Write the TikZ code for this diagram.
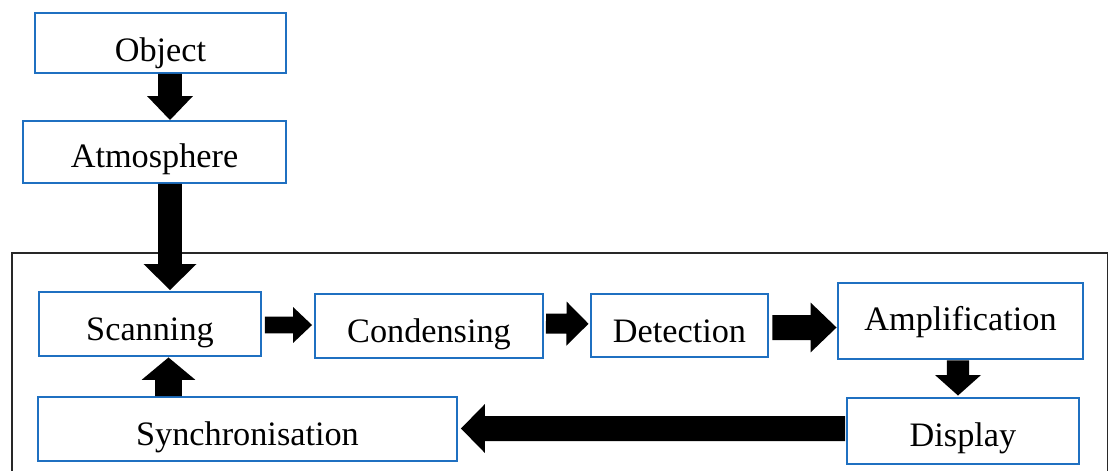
\documentclass[tikz,border=0pt]{standalone}
\usepackage{fontspec}
\setmainfont{Liberation Serif}
\usetikzlibrary{calc}
\definecolor{boxblue}{RGB}{31,112,193}
\definecolor{framegray}{RGB}{40,40,40}
\tikzset{
  box/.style={draw=boxblue, line width=0.04cm, fill=white, inner sep=0pt,
    text depth=0pt, font=\fontsize{19.5}{23}\selectfont},
  framel/.style={draw=framegray, line width=0.025cm},
  arrowfill/.style={fill=black}
}
% block arrow: #1 start, #2 tip, #3 shaft half-width, #4 head half-width, #5 head length (px)
\newcommand\blockarrow[5]{%
  \coordinate (baS) at (#1);
  \coordinate (baT) at (#2);
  \coordinate (baD) at ($(baT)!#5*0.569pt!(baS)$);
  \fill[arrowfill] ($(baS)!#3*0.569pt!90:(baT)$) -- ($(baD)!#3*0.569pt!90:(baT)$)
    -- ($(baD)!#4*0.569pt!90:(baT)$) -- (baT) -- ($(baD)!#4*0.569pt!-90:(baT)$)
    -- ($(baD)!#3*0.569pt!-90:(baT)$) -- ($(baS)!#3*0.569pt!-90:(baT)$) -- cycle;
}
\begin{document}
\begin{tikzpicture}[x=0.02cm,y=-0.02cm]
\useasboundingbox (0,0) rectangle (1109,470);
\fill[white] (0,0) rectangle (1109,470);
% outer frame
\draw[framel] (12,472) -- (12,253) -- (1107.5,253) -- (1107.5,472);
% boxes
\node[box, minimum width=5.02cm, minimum height=1.20cm, text height=0.76cm] (obj) at (160.5,43) {Object};
\node[box, minimum width=5.26cm, minimum height=1.24cm, text height=0.64cm] (atm) at (154.5,152) {Atmosphere};
\node[box, minimum width=4.44cm, minimum height=1.28cm, text height=0.64cm] (scan) at (150,324) {Scanning};
\node[box, minimum width=4.56cm, minimum height=1.28cm, text height=0.64cm] (cond) at (429,326) {Condensing};
\node[box, minimum width=3.54cm, minimum height=1.27cm, text height=0.70cm] (det) at (679.5,325.3) {Detection};
\node[box, minimum width=4.90cm, minimum height=1.54cm, text height=0.39cm] (amp) at (960.5,321) {Amplification};
\node[box, minimum width=4.64cm, minimum height=1.32cm, text height=0.60cm] (disp) at (963,431) {Display};
\node[box, minimum width=8.38cm, minimum height=1.28cm, text height=0.64cm] (sync) at (247.5,429) {Synchronisation};
% connectors
\blockarrow{$(obj.south)+(9.5,0)$}{$(atm.north)+(15.5,0)$}{12}{23}{24}
\blockarrow{$(atm.south)+(15.5,0)$}{$(scan.north)+(20,-1)$}{12}{26.5}{26}
\blockarrow{$(scan.east)+(3,1)$}{$(cond.west)+(-2,-1)$}{8.3}{18}{19}
\blockarrow{$(cond.east)+(2,-2.5)$}{$(det.west)+(-1.5,-1.5)$}{10}{22}{22}
\blockarrow{$(det.east)+(3.5,2.2)$}{$(amp.west)+(-0.5,6.5)$}{12.5}{25}{26}
\blockarrow{$(amp.south)+(-2.5,0)$}{$(disp.north)+(-5,-1.5)$}{11.2}{23}{20.5}
\blockarrow{$(disp.west)+(-1,-2.5)$}{$(sync.east)+(3,-0.5)$}{12.5}{24.5}{24}
\blockarrow{$(sync.north)+(-79,0)$}{$(scan.south)+(18.5,0.5)$}{13.3}{27}{22.5}
\end{tikzpicture}
\end{document}
